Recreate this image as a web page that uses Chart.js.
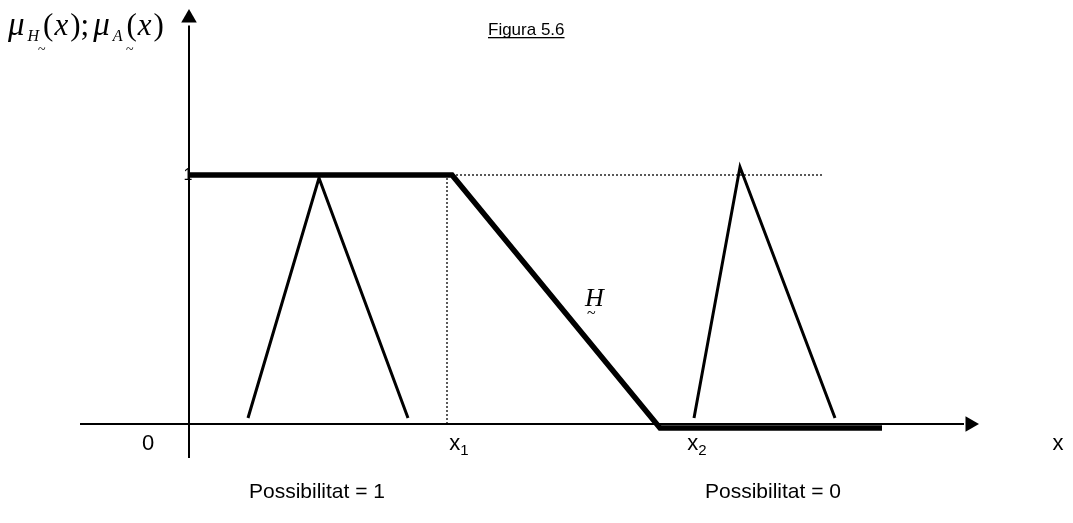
<!DOCTYPE html>
<html>
<head>
<meta charset="utf-8">
<script src="https://cdn.jsdelivr.net/npm/chart.js@4.4.1/dist/chart.umd.min.js"></script>
<style>
  body { margin: 0; background: #fff; }
  #caixa { width: 1073px; height: 523px; position: relative; }
</style>
</head>
<body>
<div id="caixa"><canvas id="grafic"></canvas></div>
<script>
// funció H (gruixuda)
var hX = [0, 26.3, 47.1, 69.3]
var hY = [1, 1, -0.016, -0.016]

// triangle A a l'esquerra
var a1X = [5.9, 13.0, 21.9]
var a1Y = [0.024, 0.988, 0.024]

// triangle A a la dreta
var a2X = [50.5, 55.1, 64.6]
var a2Y = [0.024, 1.032, 0.024]

// línies puntejades
var guiaX = [25.8, 25.8]
var guiaY = [0, 1]
var nivellX = [26.3, 63.4]
var nivellY = [1, 1]

// eixos
var eixXx = [-10.9, 77.5]
var eixXy = [0, 0]
var eixYx = [0, 0]
var eixYy = [-0.137, 1.60]

// etiquetes de l'eix x
var rotulsX = ['0', 'x', 'x', 'x']
var subRotulsX = ['', '1', '2', '']
var posRotulsX = [-4.1, 27.0, 50.8, 86.9]
var posibilitats = ['Possibilitat = 1', 'Possibilitat = 0']
var posPosibilitats = [12.8, 58.4]

function parells(xs, ys) {
    var r = []
    for (var i = 0; i < xs.length; i++) {
        r.push({ x: xs[i], y: ys[i] })
    }
    return r
}

function linia(xs, ys, gruix, guions) {
    return {
        data: parells(xs, ys),
        showLine: true,
        borderColor: '#000',
        backgroundColor: '#000',
        borderWidth: gruix,
        borderDash: guions || [],
        pointRadius: 0,
        borderJoinStyle: 'miter',
        borderCapStyle: 'butt',
        tension: 0
    }
}

// dibuixa trossos de text un darrere l'altre
function trossos(ctx, x, y, llista) {
    for (var i = 0; i < llista.length; i++) {
        var t = llista[i]
        ctx.font = t.f
        ctx.fillText(t.t, x, y + (t.dy || 0))
        x += ctx.measureText(t.t).width + (t.dx || 0)
    }
}

const textos = {
    id: 'textos',
    afterDraw(chart) {
        var ctx = chart.ctx
        var sx = chart.scales.x
        var sy = chart.scales.y
        ctx.save()
        ctx.fillStyle = '#000'
        ctx.textBaseline = 'alphabetic'

        // etiquetes sota l'eix
        for (var i = 0; i < rotulsX.length; i++) {
            var cx = sx.getPixelForValue(posRotulsX[i])
            var by = sy.getPixelForValue(-0.104)
            ctx.font = '22px "Liberation Sans", Arial'
            var w1 = ctx.measureText(rotulsX[i]).width
            ctx.font = '15px "Liberation Sans", Arial'
            var w2 = ctx.measureText(subRotulsX[i]).width
            var x0 = cx - (w1 + w2) / 2
            ctx.font = '22px "Liberation Sans", Arial'
            ctx.fillText(rotulsX[i], x0, by)
            ctx.font = '15px "Liberation Sans", Arial'
            ctx.fillText(subRotulsX[i], x0 + w1, by + 5)
        }

        ctx.textAlign = 'center'
        ctx.font = '21px "Liberation Sans", Arial'
        for (var j = 0; j < posibilitats.length; j++) {
            ctx.fillText(posibilitats[j], sx.getPixelForValue(posPosibilitats[j]), sy.getPixelForValue(-0.297))
        }

        // el "1" tapat per l'eix i la línia
        ctx.font = '16px "Liberation Sans", Arial'
        ctx.fillText('1', sx.getPixelForValue(0) - 1, sy.getPixelForValue(1) + 5)

        // títol
        ctx.textAlign = 'left'
        ctx.font = '17px "Liberation Sans", Arial'
        ctx.fillText('Figura 5.6', 488, 35)
        var wt = ctx.measureText('Figura 5.6').width
        ctx.fillRect(488, 37, wt, 1.3)

        // etiqueta H
        var hx = sx.getPixelForValue(39.6)
        var hy = sy.getPixelForValue(0.474)
        ctx.font = 'italic 26px "Liberation Serif", serif'
        ctx.fillText('H', hx, hy)
        ctx.font = '16px "Liberation Serif", serif'
        ctx.fillText('~', hx + 2, hy + 12)

        // etiqueta de l'eix y
        var ser = '"Liberation Serif", serif'
        trossos(ctx, 8, 35, [
            { t: 'μ', f: 'italic 33px ' + ser, dx: 3 },
            { t: 'H', f: 'italic 16px ' + ser, dy: 6, dx: 4 },
            { t: '(', f: '31px ' + ser, dx: 1 },
            { t: 'x', f: 'italic 31px ' + ser, dx: 2 },
            { t: ');', f: '31px ' + ser, dx: 4 },
            { t: 'μ', f: 'italic 33px ' + ser, dx: 3 },
            { t: 'A', f: 'italic 16px ' + ser, dy: 6, dx: 4 },
            { t: '(', f: '31px ' + ser, dx: 1 },
            { t: 'x', f: 'italic 31px ' + ser, dx: 2 },
            { t: ')', f: '31px ' + ser }
        ])
        ctx.font = '14px ' + ser
        ctx.fillText('~', 38, 54)
        ctx.fillText('~', 126, 54)
        ctx.restore()
    }
}

var fletxaX = linia([78.1], [0], 0)
fletxaX.pointRadius = 9
fletxaX.pointStyle = 'triangle'
fletxaX.rotation = 90
fletxaX.showLine = false

var fletxaY = linia([0], [1.631], 0)
fletxaY.pointRadius = 9
fletxaY.pointStyle = 'triangle'
fletxaY.showLine = false

const config = {
    type: 'scatter',
    data: {
        datasets: [
            linia(eixXx, eixXy, 2),
            linia(eixYx, eixYy, 2),
            fletxaX,
            fletxaY,
            linia(guiaX, guiaY, 1.3, [2, 2]),
            linia(nivellX, nivellY, 1.3, [2, 2]),
            linia(a1X, a1Y, 3),
            linia(a2X, a2Y, 3),
            linia(hX, hY, 5.5)
        ]
    },
    options: {
        responsive: true,
        maintainAspectRatio: false,
        animation: false,
        layout: { padding: 0, autoPadding: false },
        plugins: {
            legend: { display: false },
            tooltip: { enabled: false }
        },
        scales: {
            x: { type: 'linear', display: false, min: -18.9, max: 88.4 },
            y: { type: 'linear', display: false, min: -0.3976, max: 1.7028 }
        }
    },
    plugins: [textos]
}

const meuGrafic = new Chart(document.getElementById('grafic'), config)
</script>
</body>
</html>
